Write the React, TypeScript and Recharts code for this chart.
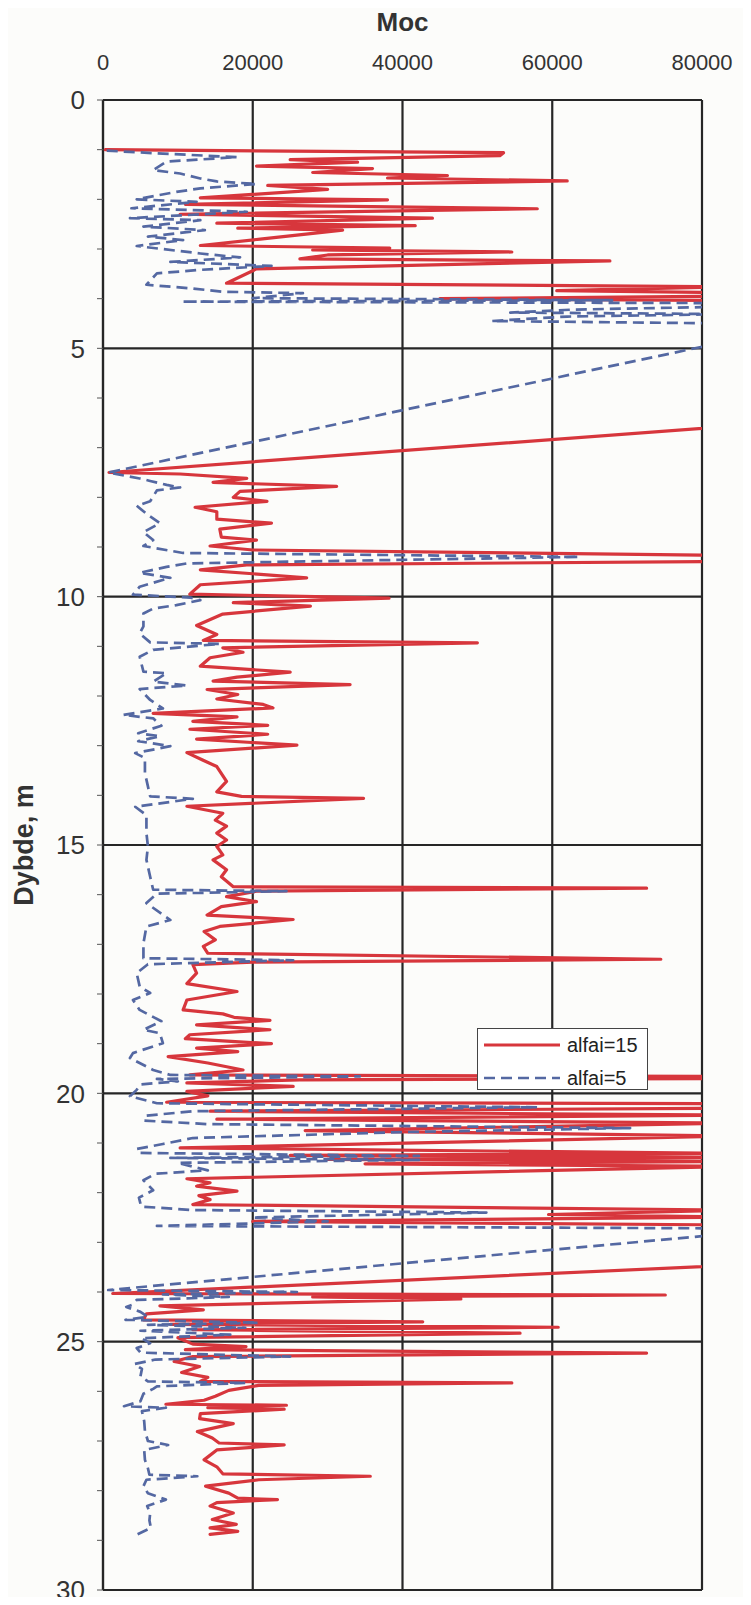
import { ScatterChart, Scatter, XAxis, YAxis, CartesianGrid, Label } from "recharts";

// [depth (m), Moc] pairs, top to bottom
type Pt = [number, number];

const red1: Pt[] = [
  [1.0, 300], [1.06, 53500], [1.12, 53000], [1.2, 25000], [1.25, 34000], [1.33, 20500], [1.38, 36000],
  [1.46, 28000], [1.52, 46000], [1.57, 38000], [1.63, 62000], [1.72, 22000], [1.8, 30000], [1.97, 13000],
  [2.01, 38000], [2.1, 11000], [2.19, 58000], [2.3, 10300], [2.38, 44000], [2.48, 15200], [2.53, 41700],
  [2.58, 18000], [2.62, 32000], [2.8, 21000], [2.93, 13000], [2.98, 38300], [3.02, 28000], [3.06, 54600],
  [3.12, 30000], [3.2, 26300], [3.24, 67700], [3.4, 20500], [3.69, 16500], [3.76, 84000], [3.84, 60600],
  [3.88, 84000], [3.95, 84000], [4.0, 45000], [4.04, 84000], [4.6, 120000],
];
const red2: Pt[] = [
  [6.5, 90000], [7.5, 800], [7.53, 10300], [7.62, 19200], [7.7, 14700], [7.78, 31200], [7.88, 18300],
  [8.0, 17400], [8.08, 21900], [8.2, 12300], [8.29, 15200], [8.44, 15200], [8.52, 22500], [8.64, 15600],
  [8.8, 15800], [8.86, 20500], [8.98, 14300], [9.06, 20000], [9.17, 84000], [9.29, 84000], [9.36, 19200],
  [9.46, 13000], [9.62, 27200], [9.76, 13000], [9.95, 11600], [10.03, 38200],
];
const red3: Pt[] = [
  [10.12, 17400], [10.19, 27700], [10.35, 16000], [10.58, 12500], [10.76, 15200], [10.88, 13400],
  [10.93, 50000], [11.03, 16000], [11.12, 18700], [11.23, 14300], [11.4, 13000], [11.52, 25000],
  [11.62, 17900], [11.7, 14700], [11.77, 33000], [11.87, 13900], [11.97, 18000], [12.06, 15200],
  [12.17, 21400], [12.24, 22700], [12.35, 6700], [12.42, 17900], [12.51, 12000], [12.59, 22000],
  [12.67, 11600], [12.77, 22000], [12.87, 12500], [12.99, 25900], [13.14, 11200], [13.29, 13300],
  [13.42, 15200], [13.72, 16500], [13.93, 15200], [14.02, 18500], [14.06, 34800], [14.22, 11200],
  [14.36, 16000], [14.5, 15000], [14.62, 16500], [14.76, 15200], [14.9, 16500], [15.03, 15200], [15.2, 16000],
];
const red4: Pt[] = [
  [15.3, 14700], [15.5, 16500], [15.64, 15800], [15.84, 17400], [15.87, 72600], [15.93, 20500],
  [16.04, 16500], [16.14, 20500], [16.24, 15800], [16.41, 13900], [16.5, 25400], [16.64, 15600],
  [16.74, 13500], [16.91, 15000], [17.04, 13400], [17.18, 14000], [17.3, 74500], [17.36, 20000],
  [17.41, 12000], [17.58, 12500], [17.79, 11200], [17.95, 17900], [18.12, 11200], [18.32, 10700],
  [18.4, 16000], [18.47, 17500], [18.53, 22300], [18.62, 12500], [18.72, 22300], [18.82, 11600],
  [18.9, 11000], [19.0, 22500], [19.09, 12500], [19.16, 18000], [19.26, 8700], [19.39, 14000],
  [19.53, 18700], [19.63, 11600], [19.66, 84000], [19.7, 84000], [19.73, 26300], [19.79, 11200],
  [19.86, 25400], [19.96, 11200],
];
const red5: Pt[] = [
  [20.05, 14000], [20.18, 8500], [20.21, 84000], [20.3, 84000], [20.36, 14300], [20.44, 84000],
  [20.52, 15200], [20.6, 84000], [20.75, 27000], [20.86, 84000], [21.1, 10300], [21.21, 84000],
  [21.25, 25000], [21.29, 84000], [21.33, 30000], [21.37, 84000], [21.42, 35000], [21.47, 84000],
  [21.72, 11200], [21.8, 14300], [21.87, 12500], [21.97, 17900], [22.06, 12800], [22.14, 14300],
  [22.24, 12000], [22.35, 84000], [22.44, 59500], [22.49, 84000], [22.58, 20000], [22.65, 84000],
  [23.42, 90000],
];
const red6: Pt[] = [
  [24.03, 1300], [24.06, 75100], [24.1, 28000], [24.14, 47800], [24.2, 30000], [24.28, 7600],
  [24.36, 13400], [24.44, 5800], [24.56, 5400], [24.6, 42700], [24.65, 9000], [24.71, 60800],
  [24.76, 12000], [24.83, 55700], [24.92, 10000], [25.05, 12000], [25.1, 19100], [25.16, 11000],
  [25.23, 72600], [25.3, 12000], [25.4, 9500],
];
const red7: Pt[] = [
  [25.5, 12900], [25.62, 10500], [25.72, 14000], [25.8, 13000], [25.83, 54600], [25.88, 20800],
  [25.98, 16800], [26.1, 15000], [26.18, 13500], [26.26, 8400], [26.28, 24500], [26.33, 14000],
  [26.36, 24200], [26.45, 13000], [26.55, 12900], [26.65, 17400], [26.81, 12600], [26.94, 14600],
  [27.04, 15500], [27.08, 24200], [27.18, 15200], [27.38, 13500], [27.52, 15200], [27.66, 16000],
  [27.71, 35700], [27.78, 20800], [27.91, 13700], [28.05, 16800], [28.15, 18000], [28.18, 23300],
  [28.24, 15200], [28.31, 14300], [28.45, 17400], [28.58, 14600], [28.68, 17800], [28.75, 14300],
  [28.82, 18000], [28.88, 14300],
];

const blue1: Pt[] = [
  [1.02, 500], [1.08, 8000], [1.15, 17900], [1.24, 8500], [1.41, 6700], [1.48, 10300], [1.58, 13000],
  [1.64, 15200], [1.69, 20500], [1.78, 13000], [1.85, 9800], [2.0, 4500], [2.05, 12500], [2.18, 3800],
  [2.25, 19200], [2.38, 3600], [2.42, 13000], [2.55, 5400], [2.62, 13600], [2.75, 6000], [2.82, 10700],
  [2.94, 4500], [3.09, 13000], [3.17, 18300], [3.26, 9000], [3.34, 22500], [3.42, 13000], [3.49, 7200],
  [3.72, 5800], [3.79, 11600], [3.86, 16000], [3.89, 26700], [3.99, 20000], [4.03, 68000], [4.06, 10500],
  [4.09, 84000], [4.16, 84000], [4.22, 62800], [4.28, 54400], [4.31, 84000], [4.36, 62000],
  [4.45, 51900], [4.5, 84000], [4.65, 90000],
];
const blue2: Pt[] = [
  [7.5, 700], [7.62, 4900], [7.67, 6300], [7.75, 8500], [7.8, 10300], [7.86, 7200], [8.08, 6300],
  [8.17, 4500], [8.33, 5800], [8.52, 7600], [8.7, 5400], [8.86, 6700], [8.98, 5400], [9.12, 10700],
  [9.2, 63600], [9.33, 11200], [9.4, 8500], [9.52, 4900], [9.62, 9000], [9.8, 4900], [9.96, 4000],
  [10.02, 11700],
];
const blue3: Pt[] = [
  [10.07, 13000], [10.17, 9800], [10.24, 6700], [10.34, 5400], [10.6, 5400], [10.74, 4900], [10.92, 6300],
  [10.95, 15600], [11.07, 6700], [11.21, 4900], [11.51, 5400], [11.54, 8500], [11.71, 6700], [11.79, 11200],
  [11.86, 4900], [12.08, 6300], [12.25, 8000], [12.38, 2700], [12.45, 6700], [12.6, 7800], [12.75, 4700],
  [12.81, 7600], [12.91, 4700], [13.01, 9000], [13.15, 4300], [13.25, 5600], [13.55, 5600], [13.82, 6000],
  [14.02, 6300], [14.07, 12000], [14.23, 4300], [14.4, 5800], [14.76, 5800], [15.03, 6000],
];
const blue4: Pt[] = [
  [15.3, 5800], [15.64, 6300], [15.9, 6700], [15.93, 24500], [15.98, 7200], [16.17, 5800], [16.51, 9000],
  [16.64, 5800], [16.98, 5400], [17.28, 5400], [17.32, 25400], [17.4, 6000], [17.58, 4500], [17.85, 4900],
  [17.98, 6300], [18.12, 4000], [18.32, 4900], [18.55, 7800], [18.72, 5400], [18.79, 7600], [18.99, 8000],
  [19.19, 4000], [19.29, 3600], [19.53, 6700], [19.63, 9000], [19.66, 34300], [19.71, 7200], [19.76, 10000],
  [19.82, 5000], [19.93, 4500],
];
const blue5: Pt[] = [
  [20.06, 3600], [20.2, 7200], [20.28, 58000], [20.36, 12000], [20.45, 5800], [20.55, 5500], [20.62, 14000],
  [20.7, 70400], [20.78, 40000], [20.9, 12000], [21.02, 8000], [21.12, 4500], [21.2, 5000], [21.26, 42200],
  [21.3, 9000], [21.34, 42200], [21.4, 10000], [21.55, 14000], [21.62, 7000], [21.75, 5400], [21.95, 6700],
  [22.1, 4800], [22.28, 5100], [22.35, 12000], [22.4, 51200], [22.5, 20000], [22.58, 30000], [22.67, 7200],
  [22.72, 84000], [22.74, 90000], [23.96, 700],
];
const blue6: Pt[] = [
  [24.0, 25900], [24.05, 8000], [24.1, 16800], [24.16, 4500], [24.25, 4000], [24.3, 3100], [24.4, 5000],
  [24.5, 6000], [24.56, 3000], [24.62, 20800], [24.66, 6000], [24.72, 19000], [24.78, 5000], [24.86, 17000],
  [24.93, 5100], [25.03, 6300], [25.13, 4500], [25.22, 5000], [25.3, 25000], [25.36, 7000], [25.45, 4200],
  [25.55, 5200], [25.7, 5000], [25.8, 6000], [25.83, 19100], [25.9, 7200], [25.95, 6700], [26.05, 5400],
  [26.2, 5000], [26.3, 2800], [26.33, 8400], [26.4, 5200], [26.6, 5500], [26.8, 5600], [27.0, 6000],
  [27.08, 8700], [27.18, 5500], [27.38, 5600], [27.55, 6000], [27.68, 6200], [27.71, 12600], [27.78, 5800],
  [27.91, 5400], [28.05, 6000], [28.18, 8400], [28.31, 5900], [28.45, 6300], [28.6, 6200], [28.75, 6400],
  [28.88, 4600],
];

const mocTicks = [0, 20000, 40000, 60000, 80000];
const mocMinorTicks = [
  0, 5000, 10000, 15000, 20000, 25000, 30000, 35000, 40000, 45000, 50000, 55000, 60000, 65000, 70000, 75000, 80000,
];
const depthTicks = [
  0, 1, 2, 3, 4, 5, 6, 7, 8, 9, 10, 11, 12, 13, 14, 15, 16, 17, 18, 19, 20, 21, 22, 23, 24, 25, 26, 27, 28, 29, 30,
];
const depthGrid = [0, 5, 10, 15, 20, 25, 30];

const RED = "#d7363c";
const BLUE = "#5468a2";
const INK = "#262626";
const FONT = "'Liberation Sans', Arial, Helvetica, sans-serif";

const RED_W = 3.2;
const BLUE_W = 2.7;
const BLUE_DASH = "11 6";

const toRows = (pts: Pt[]) => pts.map(([depth, moc]) => ({ depth, moc }));

const alfai15 = toRows([...red1, ...red2, ...red3, ...red4, ...red5, ...red6, ...red7]);
const alfai5 = toRows([...blue1, ...blue2, ...blue3, ...blue4, ...blue5, ...blue6]);

const legendItems = [
  { name: "alfai=15", color: RED, width: RED_W, dash: undefined as string | undefined },
  { name: "alfai=5", color: BLUE, width: BLUE_W, dash: BLUE_DASH },
];

const noDot = () => <g />;

const DepthTitle = ({ viewBox }: any) => {
  const cx = viewBox.x - 19;
  const cy = viewBox.y + viewBox.height / 2;
  return (
    <text
      x={cx}
      y={cy}
      transform={`rotate(-90 ${cx} ${cy})`}
      textAnchor="middle"
      dominantBaseline="central"
      style={{ fontSize: 27, fontWeight: 700, fill: "#333", fontFamily: FONT }}
    >
      Dybde, m
    </text>
  );
};

export default function App() {
  return (
    <div
      style={{
        position: "relative",
        width: 751,
        height: 1605,
        margin: -8,
        background: "#fcfcfa",
        fontFamily: FONT,
      }}
    >
      <ScatterChart width={751} height={1605} margin={{ top: 60, right: 49, bottom: 15, left: 43 }}>
        <CartesianGrid
          stroke={INK}
          strokeWidth={2.2}
          horizontalValues={depthGrid}
          verticalValues={mocTicks}
        />
        <XAxis
          xAxisId="minor"
          type="number"
          dataKey="moc"
          orientation="top"
          domain={[0, 80000]}
          ticks={mocMinorTicks}
          interval={0}
          mirror
          height={1}
          tick={false}
          tickSize={5}
          axisLine={false}
          tickLine={{ stroke: "#666", strokeWidth: 1 }}
          allowDataOverflow
        />
        <XAxis
          type="number"
          dataKey="moc"
          orientation="top"
          domain={[0, 80000]}
          ticks={mocTicks}
          interval={0}
          height={40}
          tickLine={false}
          tickSize={6}
          tickMargin={24}
          axisLine={{ stroke: INK, strokeWidth: 2.2 }}
          tick={{ fill: "#333", fontSize: 22, fontFamily: FONT }}
          allowDataOverflow
        >
          <Label
            value="Moc"
            position="top"
            offset={29}
            style={{ fontSize: 26, fontWeight: 700, fill: "#333", fontFamily: FONT }}
          />
        </XAxis>
        <YAxis
          type="number"
          dataKey="depth"
          domain={[0, 30]}
          reversed
          ticks={depthTicks}
          interval={0}
          width={60}
          tickSize={6}
          tickMargin={12}
          tickFormatter={(v: number) => (v % 5 === 0 ? String(v) : "")}
          axisLine={{ stroke: INK, strokeWidth: 2.2 }}
          tickLine={{ stroke: "#555", strokeWidth: 1 }}
          tick={{ fill: "#333", fontSize: 26, fontFamily: FONT }}
          allowDataOverflow
        >
          <Label content={DepthTitle} />
        </YAxis>
        <Scatter
          name="alfai=15"
          data={alfai15}
          line={{ stroke: RED, strokeWidth: RED_W, strokeLinejoin: "round", strokeLinecap: "round" }}
          shape={noDot}
          isAnimationActive={false}
        />
        <Scatter
          name="alfai=5"
          data={alfai5}
          line={{ stroke: BLUE, strokeWidth: BLUE_W, strokeDasharray: BLUE_DASH, strokeLinejoin: "round" }}
          shape={noDot}
          isAnimationActive={false}
        />
      </ScatterChart>

      <div
        style={{
          position: "absolute",
          left: 477,
          top: 1028,
          width: 171,
          height: 62,
          border: "1px solid #444",
          background: "#fff",
          boxSizing: "border-box",
        }}
      >
        {legendItems.map((item, i) => (
          <div
            key={item.name}
            style={{
              position: "absolute",
              left: 6,
              top: 3 + i * 33,
              height: 26,
              display: "flex",
              alignItems: "center",
            }}
          >
            <svg width={78} height={10}>
              <line
                x1={0}
                y1={5}
                x2={76}
                y2={5}
                stroke={item.color}
                strokeWidth={item.width}
                strokeDasharray={item.dash}
              />
            </svg>
            <span style={{ fontSize: 20, color: "#222", marginLeft: 5 }}>{item.name}</span>
          </div>
        ))}
      </div>
    </div>
  );
}
